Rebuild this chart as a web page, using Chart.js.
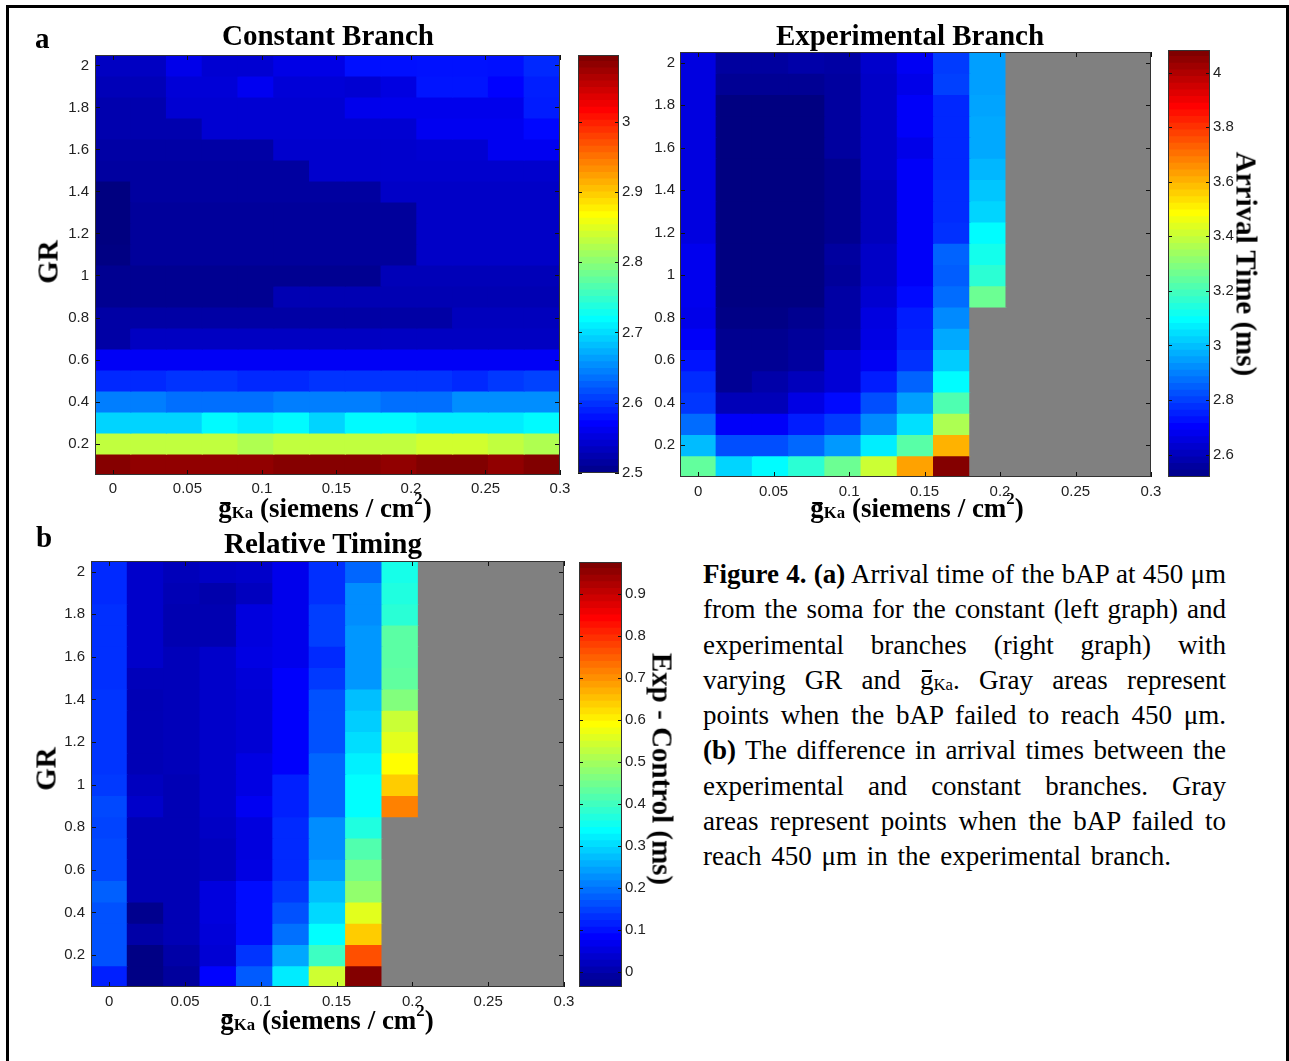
<!DOCTYPE html>
<html><head><meta charset="utf-8">
<script src="https://cdn.jsdelivr.net/npm/chart.js@4.4.1/dist/chart.umd.min.js"></script>
<style>
html,body{margin:0;padding:0;background:#fff;}
body{width:1289px;height:1061px;position:relative;overflow:hidden;font-family:"Liberation Serif","Times New Roman",serif;color:#000;}
.frame{position:absolute;left:6px;top:5px;width:1283px;height:1100px;border:3px solid #000;box-sizing:border-box;}
.wrap{position:absolute;}
.wrap canvas{display:block;}
.t{position:absolute;font-weight:bold;font-size:29px;line-height:29px;white-space:nowrap;}
.c{transform:translateX(-50%);}
.rot{transform:translate(-50%,-50%) rotate(-90deg);}
.rotcw{transform:translate(-50%,-50%) rotate(90deg);}
.xl{position:absolute;font-weight:bold;font-size:27px;line-height:27px;white-space:nowrap;transform:translateX(-50%);}
.gb{position:relative;display:inline-block;}
.gb::before{content:"";position:absolute;left:0.07em;right:0.05em;top:0.26em;height:0.085em;background:#000;}
.xl sub{font-size:0.62em;vertical-align:-0.08em;line-height:0;}
.xl sup{font-size:0.62em;vertical-align:0.78em;line-height:0;}
#cap{position:absolute;left:703px;top:557px;width:523px;font-size:27px;line-height:35.25px;}
#cap .l{text-align:justify;text-align-last:justify;white-space:normal;}
#cap .l.last{text-align:left;text-align-last:left;word-spacing:3px;}
#cap sub{font-size:0.62em;vertical-align:-0.08em;line-height:0;}
#cap .gb::before{top:0.27em;height:0.07em;}
</style>
</head><body>
<div class="frame"></div>

<div class="wrap" id="w1"><canvas id="c1"></canvas></div>
<div class="wrap" id="w2"><canvas id="c2"></canvas></div>
<div class="wrap" id="w3"><canvas id="c3"></canvas></div>
<div class="wrap" id="w4"><canvas id="c4"></canvas></div>
<div class="wrap" id="w5"><canvas id="c5"></canvas></div>
<div class="wrap" id="w6"><canvas id="c6"></canvas></div>

<div class="t" style="left:35px;top:24px;">a</div>
<div class="t c" style="left:328px;top:21px;">Constant Branch</div>
<div class="t c" style="left:910px;top:21px;">Experimental Branch</div>
<div class="t" style="left:36px;top:523px;">b</div>
<div class="t c" style="left:323px;top:529px;">Relative Timing</div>
<div class="t rot" style="left:48px;top:262px;">GR</div>
<div class="t rot" style="left:46px;top:769px;">GR</div>
<div class="t rotcw" style="left:1246px;top:264px;">Arrival Time (ms)</div>
<div class="t rotcw" style="left:662px;top:769px;">Exp - Control (ms)</div>
<div class="xl" style="left:325px;top:495px;"><span class="gb">g</span><sub>Ka</sub> (siemens / cm<sup>2</sup>)</div>
<div class="xl" style="left:917px;top:495px;"><span class="gb">g</span><sub>Ka</sub> (siemens / cm<sup>2</sup>)</div>
<div class="xl" style="left:327px;top:1007px;"><span class="gb">g</span><sub>Ka</sub> (siemens / cm<sup>2</sup>)</div>

<div id="cap">
<div class="l"><b>Figure 4. (a)</b> Arrival time of the bAP at 450 μm</div>
<div class="l">from the soma for the constant (left graph) and</div>
<div class="l">experimental branches (right graph) with</div>
<div class="l">varying GR and <span class="gb">g</span><sub>Ka</sub>. Gray areas represent</div>
<div class="l">points when the bAP failed to reach 450 μm.</div>
<div class="l"><b>(b)</b> The difference in arrival times between the</div>
<div class="l">experimental and constant branches. Gray</div>
<div class="l">areas represent points when the bAP failed to</div>
<div class="l last">reach 450 μm in the experimental branch.</div>
</div>

<script>
// ---------------- DATA ----------------
// gKa columns (siemens / cm^2), 13 cells
const gKaValues = [0, 0.024, 0.048, 0.072, 0.096, 0.12, 0.144, 0.168, 0.192, 0.216, 0.24, 0.264, 0.288];
// GR rows, listed top to bottom
const grValues = [2.0, 1.9, 1.8, 1.7, 1.6, 1.5, 1.4, 1.3, 1.2, 1.1, 1.0, 0.9, 0.8, 0.7, 0.6, 0.5, 0.4, 0.3, 0.2, 0.1];

const xTickValues = [0, 0.05, 0.1, 0.15, 0.2, 0.25, 0.3];
const yTickValues = [0.2, 0.4, 0.6, 0.8, 1.0, 1.2, 1.4, 1.6, 1.8, 2.0];

// Arrival time (ms), constant branch
const constantBranch = [
 [2.539,2.539,2.562,2.548,2.548,2.560,2.560,2.583,2.583,2.584,2.584,2.583,2.598],
 [2.533,2.533,2.551,2.551,2.566,2.551,2.551,2.548,2.557,2.586,2.586,2.575,2.592],
 [2.527,2.527,2.548,2.548,2.548,2.548,2.548,2.563,2.563,2.563,2.563,2.563,2.590],
 [2.527,2.527,2.527,2.548,2.548,2.548,2.548,2.548,2.548,2.566,2.566,2.566,2.578],
 [2.522,2.522,2.522,2.522,2.522,2.545,2.545,2.545,2.545,2.548,2.548,2.566,2.566],
 [2.519,2.519,2.519,2.519,2.519,2.519,2.545,2.545,2.545,2.545,2.545,2.545,2.545],
 [2.500,2.519,2.519,2.519,2.519,2.519,2.519,2.519,2.542,2.542,2.542,2.542,2.542],
 [2.500,2.516,2.516,2.516,2.516,2.516,2.516,2.516,2.516,2.542,2.542,2.542,2.542],
 [2.500,2.516,2.516,2.516,2.516,2.516,2.516,2.516,2.516,2.542,2.542,2.542,2.542],
 [2.502,2.516,2.516,2.516,2.516,2.516,2.516,2.516,2.516,2.542,2.542,2.542,2.542],
 [2.510,2.510,2.510,2.510,2.510,2.510,2.510,2.510,2.533,2.533,2.533,2.533,2.533],
 [2.510,2.510,2.510,2.510,2.510,2.530,2.530,2.530,2.530,2.530,2.530,2.530,2.530],
 [2.522,2.522,2.522,2.522,2.522,2.522,2.522,2.522,2.522,2.522,2.536,2.536,2.536],
 [2.522,2.539,2.539,2.539,2.539,2.539,2.539,2.539,2.539,2.539,2.539,2.539,2.539],
 [2.569,2.569,2.569,2.569,2.569,2.569,2.569,2.569,2.569,2.569,2.569,2.569,2.569],
 [2.598,2.598,2.604,2.604,2.598,2.598,2.604,2.604,2.604,2.604,2.598,2.607,2.613],
 [2.648,2.648,2.639,2.639,2.639,2.648,2.648,2.648,2.639,2.639,2.657,2.657,2.657],
 [2.698,2.698,2.698,2.721,2.712,2.721,2.698,2.721,2.721,2.712,2.712,2.712,2.721],
 [2.836,2.836,2.836,2.836,2.825,2.836,2.836,2.836,2.836,2.845,2.845,2.836,2.825],
 [3.091,3.085,3.085,3.085,3.085,3.091,3.091,3.091,3.085,3.094,3.094,3.085,3.094]
];

// Arrival time (ms), experimental branch (null = bAP failed, gray)
const experimentalBranch = [
 [2.666,2.566,2.566,2.582,2.574,2.635,2.696,2.804,2.957,null,null,null,null],
 [2.666,2.550,2.550,2.550,2.566,2.627,2.680,2.812,2.957,null,null,null,null],
 [2.666,2.520,2.520,2.520,2.566,2.627,2.704,2.773,2.965,null,null,null,null],
 [2.666,2.520,2.520,2.520,2.566,2.627,2.704,2.773,2.973,null,null,null,null],
 [2.666,2.520,2.520,2.520,2.566,2.627,2.680,2.773,2.973,null,null,null,null],
 [2.666,2.520,2.520,2.520,2.543,2.627,2.704,2.773,2.995,null,null,null,null],
 [2.666,2.520,2.520,2.520,2.543,2.611,2.704,2.780,3.018,null,null,null,null],
 [2.666,2.520,2.520,2.520,2.543,2.611,2.704,2.780,3.041,null,null,null,null],
 [2.666,2.520,2.520,2.520,2.543,2.611,2.704,2.788,3.102,null,null,null,null],
 [2.688,2.520,2.520,2.520,2.566,2.627,2.704,2.865,3.134,null,null,null,null],
 [2.688,2.520,2.520,2.520,2.558,2.627,2.704,2.857,3.171,null,null,null,null],
 [2.688,2.520,2.520,2.520,2.574,2.643,2.727,2.880,3.271,null,null,null,null],
 [2.680,2.528,2.528,2.543,2.574,2.666,2.757,2.926,null,null,null,null,null],
 [2.704,2.543,2.543,2.558,2.582,2.672,2.765,2.973,null,null,null,null,null],
 [2.743,2.550,2.550,2.566,2.650,2.696,2.788,3.026,null,null,null,null,null],
 [2.780,2.550,2.582,2.611,2.650,2.757,2.865,3.102,null,null,null,null,null],
 [2.796,2.604,2.604,2.672,2.727,2.833,2.957,3.224,null,null,null,null,null],
 [2.880,2.704,2.704,2.757,2.804,2.926,3.057,3.371,null,null,null,null,null],
 [3.002,2.833,2.833,2.873,2.949,3.079,3.240,3.615,null,null,null,null,null],
 [3.256,3.041,3.102,3.171,3.271,3.417,3.639,4.076,null,null,null,null,null]
];

// Exp - Control (ms)
const relativeTiming = [
 [0.132,0.039,0.023,0.034,0.039,0.073,0.138,0.192,0.366,null,null,null,null],
 [0.132,0.039,0.018,0.009,0.028,0.073,0.138,0.231,0.375,null,null,null,null],
 [0.138,0.039,0.014,0.014,0.059,0.073,0.153,0.231,0.385,null,null,null,null],
 [0.138,0.039,0.014,0.014,0.059,0.073,0.153,0.241,0.434,null,null,null,null],
 [0.138,0.039,0.023,0.039,0.064,0.073,0.132,0.241,0.434,null,null,null,null],
 [0.138,0.023,0.023,0.039,0.054,0.088,0.148,0.241,0.439,null,null,null,null],
 [0.143,0.018,0.023,0.039,0.049,0.088,0.172,0.281,0.473,null,null,null,null],
 [0.143,0.018,0.023,0.039,0.049,0.088,0.172,0.296,0.543,null,null,null,null],
 [0.143,0.018,0.023,0.039,0.049,0.088,0.172,0.311,0.568,null,null,null,null],
 [0.143,0.018,0.023,0.039,0.064,0.088,0.192,0.330,0.598,null,null,null,null],
 [0.148,0.028,0.018,0.039,0.064,0.122,0.192,0.345,0.647,null,null,null,null],
 [0.163,0.039,0.018,0.039,0.078,0.122,0.192,0.345,0.722,null,null,null,null],
 [0.158,0.018,0.018,0.034,0.059,0.132,0.231,0.375,null,null,null,null,null],
 [0.163,0.018,0.018,0.028,0.059,0.132,0.231,0.424,null,null,null,null,null],
 [0.163,0.018,0.018,0.028,0.064,0.132,0.247,0.459,null,null,null,null,null],
 [0.187,0.018,0.018,0.059,0.103,0.148,0.281,0.489,null,null,null,null,null],
 [0.172,-0.021,0.018,0.059,0.103,0.172,0.306,0.568,null,null,null,null,null],
 [0.172,0.004,0.018,0.054,0.103,0.202,0.345,0.647,null,null,null,null,null],
 [0.172,-0.030,0.004,0.049,0.143,0.257,0.405,0.771,null,null,null,null,null],
 [0.122,-0.030,-0.006,0.093,0.182,0.325,0.548,0.973,null,null,null,null,null]
];

// colour limits (colorbar ranges) and colorbar tick labels
const climConstant = [2.5, 3.095];
const climExperimental = [2.518, 4.083];
const climRelative = [-0.035, 0.976];
const cbTicksConstant = [2.5, 2.6, 2.7, 2.8, 2.9, 3.0];
const cbTicksExperimental = [2.6, 2.8, 3.0, 3.2, 3.4, 3.6, 3.8, 4.0];
const cbTicksRelative = [0, 0.1, 0.2, 0.3, 0.4, 0.5, 0.6, 0.7, 0.8, 0.9];

// ---------------- RENDERING ----------------
const GRAY = 'rgb(128,128,128)';
const X_MIN = -0.012, X_MAX = 0.3, Y_MIN = 0.05, Y_MAX = 2.05, ROW_H = 0.1;

Chart.defaults.font.family = '"Liberation Sans", Arial, Helvetica, sans-serif';
Chart.defaults.font.size = 15;
Chart.defaults.color = '#222';

function clamp01(v){ return Math.max(0, Math.min(1, v)); }
function jet(t){
  t = clamp01(t);
  const r = clamp01(Math.min(4*t - 1.5, -4*t + 4.5));
  const g = clamp01(Math.min(4*t - 0.5, -4*t + 3.5));
  const b = clamp01(Math.min(4*t + 0.5, -4*t + 2.5));
  return 'rgb(' + Math.round(r*255) + ',' + Math.round(g*255) + ',' + Math.round(b*255) + ')';
}
function fmt(v){ return String(parseFloat(Number(v).toFixed(3))); }

const frameTicks = {
  id: 'frameTicks',
  afterDatasetsDraw(chart, args, opts) {
    const ctx = chart.ctx, a = chart.chartArea, len = opts.len || 5;
    ctx.save();
    ctx.strokeStyle = '#111';
    ctx.lineWidth = 1;
    ctx.beginPath();
    if (opts.xTicks) {
      const sx = chart.scales.x;
      sx.ticks.forEach(t => {
        const px = Math.round(sx.getPixelForValue(t.value)) + 0.5;
        ctx.moveTo(px, a.bottom); ctx.lineTo(px, a.bottom - len);
        ctx.moveTo(px, a.top); ctx.lineTo(px, a.top + len);
      });
    }
    const sy = chart.scales.y;
    sy.ticks.forEach(t => {
      const py = Math.round(sy.getPixelForValue(t.value)) + 0.5;
      ctx.moveTo(a.left, py); ctx.lineTo(a.left + len, py);
      ctx.moveTo(a.right, py); ctx.lineTo(a.right - len, py);
    });
    ctx.stroke();
    ctx.strokeStyle = '#333';
    ctx.strokeRect(Math.round(a.left) + 0.5, Math.round(a.top) + 0.5, Math.round(a.right - a.left) - 1, Math.round(a.bottom - a.top) - 1);
    ctx.restore();
  }
};

function place(wrapId, canvasId, area, pad) {
  const W = area.r - area.l + pad.l + pad.r, H = area.b - area.t + pad.t + pad.b;
  const w = document.getElementById(wrapId);
  w.style.left = (area.l - pad.l) + 'px';
  w.style.top = (area.t - pad.t) + 'px';
  const c = document.getElementById(canvasId);
  c.width = W; c.height = H; c.style.width = W + 'px'; c.style.height = H + 'px';
  return c;
}

function makeHeatmap(wrapId, canvasId, matrix, clim, area, pad, xPad, yPad) {
  const canvas = place(wrapId, canvasId, area, pad);
  const datasets = grValues.map((gr, i) => ({
    data: gKaValues.map(x => ({ x: x, y: [gr - ROW_H/2, gr + ROW_H/2] })),
    backgroundColor: matrix[i].map(v => v === null ? GRAY : jet((v - clim[0]) / (clim[1] - clim[0]))),
    borderWidth: 0, grouped: false, barPercentage: 1, categoryPercentage: 1, inflateAmount: 0.6
  }));
  new Chart(canvas, {
    type: 'bar',
    data: { datasets: datasets },
    options: {
      responsive: false, devicePixelRatio: 1, animation: false,
      layout: { padding: { left: 0, top: pad.t, right: pad.r, bottom: 0 } },
      plugins: { legend: { display: false }, tooltip: { enabled: false }, frameTicks: { len: 5, xTicks: true } },
      scales: {
        x: {
          type: 'linear', min: X_MIN, max: X_MAX, offset: false,
          grid: { display: false, drawTicks: false, offset: false }, border: { display: false },
          afterBuildTicks: s => { s.ticks = xTickValues.map(v => ({ value: v })); },
          afterFit: s => { s.height = pad.b; },
          ticks: { padding: xPad, autoSkip: false, maxRotation: 0, minRotation: 0, callback: v => fmt(v) }
        },
        y: {
          type: 'linear', min: Y_MIN, max: Y_MAX,
          grid: { display: false, drawTicks: false }, border: { display: false },
          afterBuildTicks: s => { s.ticks = yTickValues.map(v => ({ value: v })); },
          afterFit: s => { s.width = pad.l; },
          ticks: { padding: yPad, autoSkip: false, callback: v => fmt(v) }
        }
      }
    },
    plugins: [frameTicks]
  });
}

function makeColorbar(wrapId, canvasId, clim, tickVals, area, pad) {
  const canvas = place(wrapId, canvasId, area, pad);
  const datasets = [];
  const span = clim[1] - clim[0];
  for (let k = 1; k <= 64; k++) {
    datasets.push({
      data: [[clim[0] + (k - 1) * span / 64, clim[0] + k * span / 64]],
      backgroundColor: jet(k / 64),
      borderWidth: 0, grouped: false, barPercentage: 1, categoryPercentage: 1, inflateAmount: 0.6
    });
  }
  new Chart(canvas, {
    type: 'bar',
    data: { labels: [''], datasets: datasets },
    options: {
      responsive: false, devicePixelRatio: 1, animation: false,
      layout: { padding: { left: pad.l, top: pad.t, right: 0, bottom: pad.b } },
      plugins: { legend: { display: false }, tooltip: { enabled: false }, frameTicks: { len: 4, xTicks: false } },
      scales: {
        x: { display: false },
        y: {
          position: 'right', min: clim[0], max: clim[1],
          grid: { display: false, drawTicks: false }, border: { display: false },
          afterBuildTicks: s => { s.ticks = tickVals.map(v => ({ value: v })); },
          afterFit: s => { s.width = pad.r; },
          ticks: { padding: 3, autoSkip: false, callback: v => fmt(v) }
        }
      }
    },
    plugins: [frameTicks]
  });
}

makeHeatmap('w1', 'c1', constantBranch, climConstant, { l: 95, t: 55, r: 560, b: 475 }, { l: 50, t: 25, r: 25, b: 30 }, 5, 6);
makeHeatmap('w2', 'c2', experimentalBranch, climExperimental, { l: 680, t: 52, r: 1151, b: 477 }, { l: 50, t: 25, r: 25, b: 30 }, 6, 5);
makeHeatmap('w3', 'c3', relativeTiming, climRelative, { l: 91, t: 561, r: 564, b: 987 }, { l: 50, t: 25, r: 25, b: 30 }, 6, 6);
makeColorbar('w4', 'c4', climConstant, cbTicksConstant, { l: 578, t: 55, r: 619, b: 473 }, { l: 5, t: 25, r: 30, b: 25 });
makeColorbar('w5', 'c5', climExperimental, cbTicksExperimental, { l: 1168, t: 50, r: 1210, b: 477 }, { l: 5, t: 25, r: 32, b: 25 });
makeColorbar('w6', 'c6', climRelative, cbTicksRelative, { l: 579, t: 562, r: 622, b: 987 }, { l: 5, t: 25, r: 30, b: 25 });
</script>
</body></html>
